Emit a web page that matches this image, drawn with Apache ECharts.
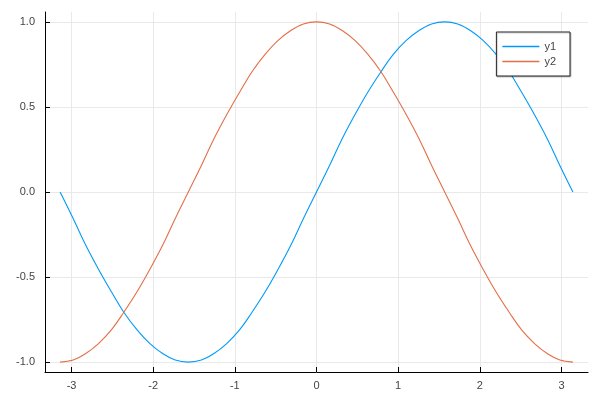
<!DOCTYPE html>
<html>
<head>
<meta charset="utf-8">
<script src="https://cdn.jsdelivr.net/npm/echarts@6/dist/echarts.min.js"></script>
<style>
  html, body { margin: 0; padding: 0; background: #fff; }
  #chart { width: 600px; height: 400px; }
</style>
</head>
<body>
<div id="chart"></div>
<script>
// sample points
const xs = [-3.14, -2.98, -2.83, -2.67, -2.51, -2.36, -2.20, -2.04, -1.88, -1.73, -1.57,
  -1.41, -1.26, -1.10, -0.94, -0.79, -0.63, -0.47, -0.31, -0.16, 0,
  0.16, 0.31, 0.47, 0.63, 0.79, 0.94, 1.10, 1.26, 1.41, 1.57,
  1.73, 1.88, 2.04, 2.20, 2.36, 2.51, 2.67, 2.83, 2.98, 3.14]
const y1 = [0, -0.156, -0.309, -0.454, -0.588, -0.707, -0.809, -0.891, -0.951, -0.988, -1,
  -0.988, -0.951, -0.891, -0.809, -0.707, -0.588, -0.454, -0.309, -0.156, 0,
  0.156, 0.309, 0.454, 0.588, 0.707, 0.809, 0.891, 0.951, 0.988, 1,
  0.988, 0.951, 0.891, 0.809, 0.707, 0.588, 0.454, 0.309, 0.156, 0]
const y2 = [-1, -0.988, -0.951, -0.891, -0.809, -0.707, -0.588, -0.454, -0.309, -0.156, 0,
  0.156, 0.309, 0.454, 0.588, 0.707, 0.809, 0.891, 0.951, 0.988, 1,
  0.988, 0.951, 0.891, 0.809, 0.707, 0.588, 0.454, 0.309, 0.156, 0,
  -0.156, -0.309, -0.454, -0.588, -0.707, -0.809, -0.891, -0.951, -0.988, -1]
const xTicks = [-3, -2, -1, 0, 1, 2, 3]
const yTicks = [-1, -0.5, 0, 0.5, 1]
const seriesNames = ['y1', 'y2']
const colors = ['#009AFA', '#E36F47']

const pairs = ys => xs.map((x, i) => [x, ys[i]])

const chart = echarts.init(document.getElementById('chart'), null, { renderer: 'canvas' })

const axisCommon = {
  type: 'value',
  axisLine: { show: true, onZero: false, lineStyle: { color: '#000', width: 1 } },
  axisTick: { show: true, inside: true, length: 5, lineStyle: { color: '#000' } },
  splitLine: { show: true, lineStyle: { color: '#e9e9e9', width: 1 } },
  axisLabel: { color: '#444', fontSize: 11, fontFamily: 'Liberation Sans, Arial, sans-serif' }
}

chart.setOption({
  animation: false,
  grid: { left: 45, right: 12, top: 12, bottom: 28, containLabel: false },
  xAxis: {
    ...axisCommon,
    min: -3.325,
    max: 3.325,
    axisTick: { ...axisCommon.axisTick, customValues: xTicks },
    axisLabel: { ...axisCommon.axisLabel, customValues: xTicks, margin: 8, formatter: v => String(v) }
  },
  yAxis: {
    ...axisCommon,
    min: -1.058,
    max: 1.058,
    axisTick: { ...axisCommon.axisTick, customValues: yTicks },
    axisLabel: { ...axisCommon.axisLabel, customValues: yTicks, margin: 10, formatter: v => v.toFixed(1) }
  },
  legend: {
    data: seriesNames.map(name => ({ name, icon: 'rect' })),
    orient: 'vertical',
    right: 30,
    top: 32,
    padding: [9, 14, 9, 6],
    itemGap: 4,
    itemWidth: 37,
    itemHeight: 1.5,
    backgroundColor: '#fff',
    borderColor: '#222',
    borderWidth: 1,
    shadowColor: 'rgba(0,0,0,0.2)',
    shadowOffsetX: 1,
    shadowOffsetY: 1,
    shadowBlur: 1,
    textStyle: { color: '#444', fontSize: 11, fontFamily: 'Liberation Sans, Arial, sans-serif', lineHeight: 10 }
  },
  series: seriesNames.map((name, i) => ({
    name,
    type: 'line',
    data: pairs(i === 0 ? y1 : y2),
    smooth: 0.4,
    symbol: 'none',
    lineStyle: { color: colors[i], width: 1.1 },
    itemStyle: { color: colors[i] }
  }))
})
</script>
</body>
</html>
